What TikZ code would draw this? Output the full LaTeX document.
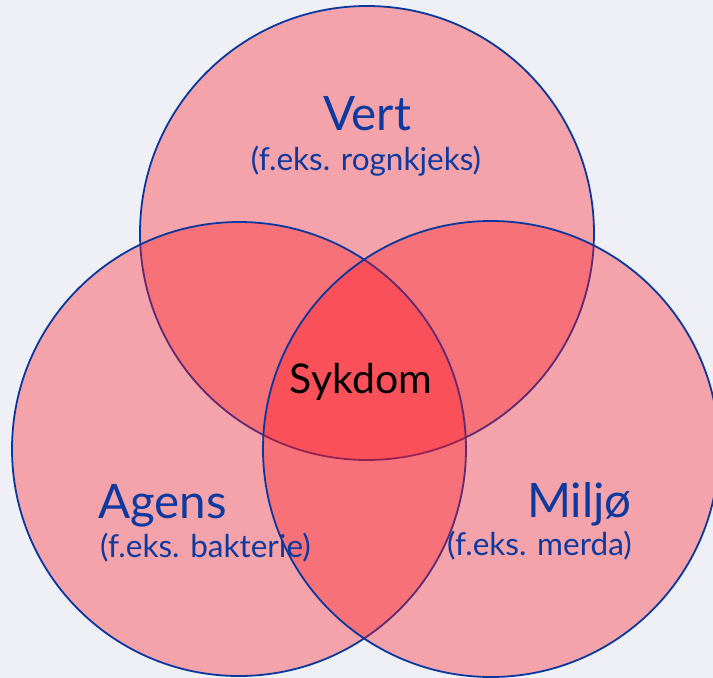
\documentclass[tikz,border=0pt]{standalone}
\usepackage{fontspec}
\setmainfont{Lato}
\definecolor{bgcol}{RGB}{239,240,246}
\definecolor{venncol}{RGB}{255,20,30}
\definecolor{rimcol}{RGB}{10,55,158}
\definecolor{labelcol}{RGB}{14,58,160}
\tikzset{
  venn/.style={fill=venncol,fill opacity=0.35,draw=rimcol,line width=1.8pt},
  title/.style={text=labelcol,font=\fontsize{47.5}{52}\selectfont,inner sep=0pt},
  note/.style={text=labelcol,font=\fontsize{31.5}{34}\selectfont,inner sep=0pt}
}
\begin{document}
\begin{tikzpicture}[x=1pt,y=-1pt]
			\useasboundingbox (0,0) rectangle (713,678);
			\fill[bgcol] (0,0) rectangle (713,678);
			\clip (0,0) rectangle (713,678);
			\coordinate (V) at (367,233);
			\coordinate (A) at (239,449);
			\coordinate (M) at (491,449);
			\draw[venn] (V) circle (227);
			\draw[venn] (A) circle (227);
			\draw[venn] (M) circle (228);
			\node[title,anchor=base] (vert) at (367,130) {Vert};
			\node[note,anchor=base] (vertex) at (366,170) {(f.eks. rognkjeks)};
			\node[title,anchor=base west] (agens) at (98,518) {Agens};
			\node[note,anchor=base west] (agensex) at (100,557) {(f.eks. bakterie)};
			\node[title,anchor=base east] (miljo) at (632,517) {Miljø};
			\node[note,anchor=base east] (miljoex) at (632,555) {(f.eks. merda)};
			\node[inner sep=0pt,font=\fontsize{41}{45}\selectfont,anchor=base] (sykdom) at (361,393) {Sykdom};
		\end{tikzpicture}
\end{document}
